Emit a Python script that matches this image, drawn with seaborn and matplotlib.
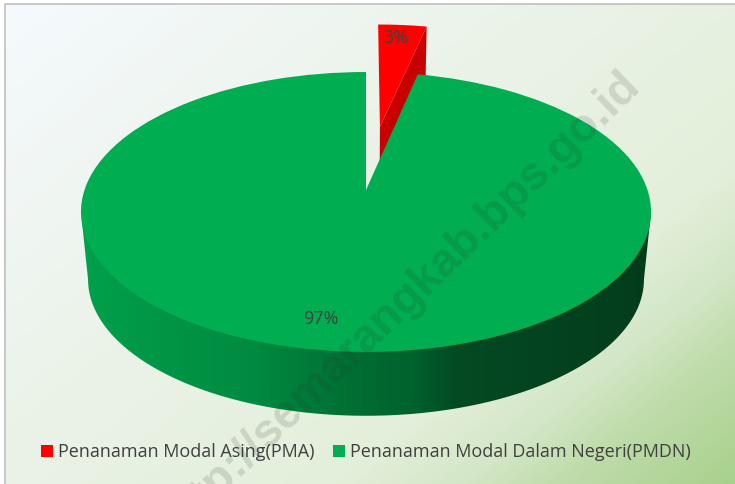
import numpy as np
import matplotlib
matplotlib.use("Agg")
import matplotlib.pyplot as plt
import seaborn as sns
from matplotlib.colors import LinearSegmentedColormap
from matplotlib.patches import Polygon
from matplotlib.transforms import Transform

# Data
categories = ["Penanaman Modal Asing(PMA)", "Penanaman Modal Dalam Negeri(PMDN)"]
values = [3.4, 96.6]
colors = ["#ff0000", "#00ad50"]
explode = [0.5, 0]
watermark = "http://semarangkab.bps.go.id"


# Tilted disc: maps the unit pie to pixels with a little perspective
class Tilt(Transform):
    input_dims = 2
    output_dims = 2

    def __init__(self, cx, cy, rx, ry, k):
        super().__init__()
        self.cx, self.cy, self.rx, self.ry, self.k = cx, cy, rx, ry, k

    def transform_non_affine(self, values):
        values = np.asarray(values, dtype=float)
        u, v = values[:, 0], values[:, 1]
        w = 1 + self.k * v
        return np.column_stack([self.cx + self.rx * u / w, self.cy - self.ry * v / w])


top_disc = Tilt(366, 190, 281.5, 136.5, 0.157)
low_disc = Tilt(366, 258, 274.5, 133, 0.157)


def unit_point(center, r, deg):
    a = np.radians(deg)
    return [center[0] + r * np.cos(a), center[1] + r * np.sin(a)]


sns.set_theme(style="white")
plt.rcParams["font.family"] = ["Open Sans", "DejaVu Sans"]

fig, ax = plt.subplots(figsize=(7.35, 4.84), dpi=100)
fig.subplots_adjust(0, 0, 1, 1)

wedges, texts, autotexts = ax.pie(
    values,
    labels=None,
    colors=colors,
    explode=explode,
    startangle=90,
    counterclock=False,
    autopct="%.0f%%",
)
ax.set_aspect("auto")
ax.set_xlim(0, 735)
ax.set_ylim(484, 0)
ax.axis("off")

# Background gradient
bg_cmap = LinearSegmentedColormap.from_list(
    "bg",
    [(0, "#f5fafe"), (0.25, "#eff5f0"), (0.7, "#e3efda"), (0.8, "#d3e6c6"), (0.87, "#bfdcaa"), (1, "#a9d18e")],
)
yy, xx = np.mgrid[0:1:200j, 0:1:300j]
ax.imshow((xx * 0.55 + yy * 0.45), cmap=bg_cmap, extent=(5, 735, 484, 4), aspect="auto", zorder=0, vmin=0, vmax=1)
ax.plot([5, 5, 735], [484, 4, 4], color="#bfbfbf", lw=1.2, zorder=1)

red, green = wedges

# Red slice: its side wall first, then the face
corner = unit_point(red.center, red.r, min(red.theta1, red.theta2))
tip_top = top_disc.transform([red.center])[0]
tip_low = low_disc.transform([red.center])[0]
corner_top = top_disc.transform([corner])[0]
corner_low = low_disc.transform([corner])[0]
ax.add_patch(Polygon([tip_top, corner_top, corner_low, tip_low], closed=True, fc="#c80000", ec="none", zorder=3))
red.set_transform(top_disc + ax.transData)
red.set_zorder(4)
red.set_linewidth(0)

# Green wall: horizontal shading clipped to the rim of the disc
wall_cmap = LinearSegmentedColormap.from_list(
    "wall",
    [(0, "#00a04c"), (0.3, "#008a40"), (0.48, "#006e32"), (0.58, "#00622d"), (0.66, "#034a23"), (1, "#033c1c")],
)
wall = ax.imshow(np.linspace(0, 1, 256)[None, :], cmap=wall_cmap, extent=(82, 651, 484, 180), aspect="auto", zorder=5)
k = top_disc.k
side = np.degrees(np.arcsin(k))
arc = np.radians(np.linspace(180 + side, 360 - side, 120))
low_arc = low_disc.transform(np.column_stack([np.cos(arc), np.sin(arc)]))
top_ends = top_disc.transform(np.column_stack([np.cos(arc[[0, -1]]), np.sin(arc[[0, -1]])]))
rim = Polygon(np.vstack([top_ends[0], low_arc, top_ends[1]]), closed=True, transform=ax.transData, fc="none", ec="none")
ax.add_patch(rim)
wall.set_clip_path(rim)

green.set_transform(top_disc + ax.transData)
green.set_zorder(6)
green.set_linewidth(0)

# Percent labels
for txt, pos in zip(autotexts, [(396, 38), (321, 319)]):
    txt.set_position(pos)
    txt.set_color("#404040")
    txt.set_fontsize(13)
    txt.set_ha("center")
    txt.set_va("center")
    txt.set_zorder(8)

leg = ax.legend(
    wedges,
    categories,
    loc="lower left",
    bbox_to_anchor=(41 / 735, 1 - 461 / 484),
    ncol=2,
    frameon=False,
    fontsize=13,
    labelcolor="#404040",
    handlelength=0.65,
    handleheight=0.65,
    handletextpad=0.3,
    columnspacing=1.02,
    borderpad=0,
    borderaxespad=0,
)
leg.set_zorder(8)

# Watermark across the whole chart, runs off the bottom edge as in the original
ax.text(
    633, 78, watermark, rotation=44, rotation_mode="anchor", ha="right", va="center",
    family=["Liberation Sans", "DejaVu Sans"], fontweight="bold", fontsize=33.5,
    color="#303030", alpha=0.15, zorder=9,
)

fig.savefig("out.png", dpi=100)
